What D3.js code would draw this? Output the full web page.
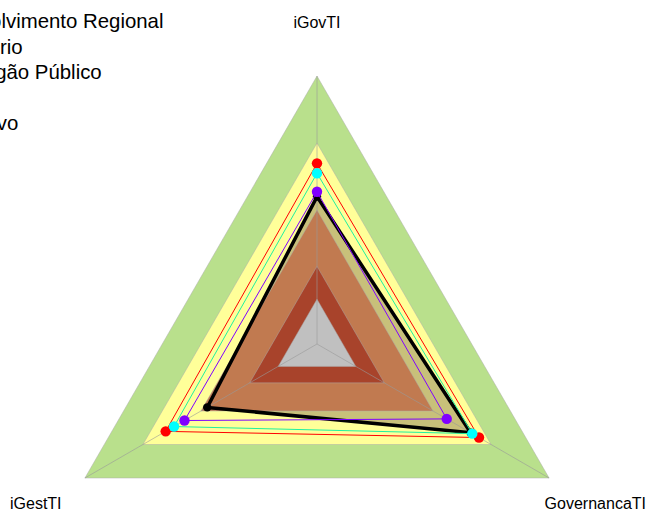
<!DOCTYPE html>
<html>
<head>
<meta charset="utf-8">
<script src="https://cdn.jsdelivr.net/npm/d3@7"></script>
<style>
  body { margin: 0; background: #fff; }
  svg { display: block; font-family: "Liberation Sans", Arial, sans-serif; }
</style>
</head>
<body>
<svg id="chart" width="650" height="513"></svg>
<script>
// axes of the radar, clockwise from the top
const axes = ["iGovTI", "GovernancaTI", "iGestTI"];

// background bands (outer to inner)
const bandLevels = [1.0, 0.75, 0.5, 0.29, 0.167];
const bandColors = ["#b9e08c", "#ffff99", "#c17a50", "#a8432b", "#c0c0c0"];

// series values, same order as axes
const seriesRed = [0.674, 0.698, 0.652];
const seriesCyan = [0.637, 0.669, 0.616];
const seriesPurple = [0.568, 0.559, 0.571];
const seriesBlack = [0.55, 0.662, 0.473];

const legendNames = ["Ministério do Desenvolvimento Regional", "Ministério", "Órgão Público", "", "Objetivo"];

const svg = d3.select("#chart");
const cx = 317, cy = 344;
const r = d3.scaleLinear().domain([0, 1]).range([0, 268]);
const angle = d3.scalePoint().domain(axes).range([-90, 150]);

function pt(axis, v) {
  const a = angle(axis) * Math.PI / 180;
  return [cx + r(v) * Math.cos(a), cy + r(v) * Math.sin(a)];
}
function poly(vals) {
  return axes.map((a, i) => pt(a, vals[i]));
}
const line = d3.line().curve(d3.curveLinearClosed);

const g = svg.append("g");

// draw the bands; the black series fill sits between yellow and brown
function band(level, color) {
  g.append("path")
    .attr("d", line(poly(axes.map(() => level))))
    .attr("fill", color)
    .attr("stroke", "#aaa")
    .attr("stroke-opacity", 0.6)
    .attr("stroke-width", 0.8);
}
band(bandLevels[0], bandColors[0]);
band(bandLevels[1], bandColors[1]);
g.append("path")
  .attr("d", line(poly(seriesBlack)))
  .attr("fill", "#c8c07a");
band(bandLevels[2], bandColors[2]);
band(bandLevels[3], bandColors[3]);
band(bandLevels[4], bandColors[4]);

// axis spokes
axes.forEach(a => {
  const [x, y] = pt(a, 1);
  g.append("line")
    .attr("x1", cx).attr("y1", cy).attr("x2", x).attr("y2", y)
    .attr("stroke", "#999").attr("stroke-opacity", 0.6).attr("stroke-width", 1);
});

// black series line + markers (drawn first, the coloured dots sit on top)
g.append("path")
  .attr("d", line(poly(seriesBlack)))
  .attr("fill", "none").attr("stroke", "#000").attr("stroke-width", 3.5)
  .attr("stroke-linejoin", "miter");
g.selectAll(null).data(poly(seriesBlack)).join("circle")
  .attr("cx", d => d[0]).attr("cy", d => d[1]).attr("r", 4.2)
  .attr("fill", "#000");

const series = [
  { vals: seriesRed, color: "#ff0000" },
  { vals: seriesCyan, color: "#00ffff", lineColor: "#20f0a0" },
  { vals: seriesPurple, color: "#8000ff" }
];
series.forEach(s => {
  g.append("path")
    .attr("d", line(poly(s.vals)))
    .attr("fill", "none").attr("stroke", s.lineColor || s.color).attr("stroke-width", 1);
});
series.forEach(s => {
  g.selectAll(null).data(poly(s.vals)).join("circle")
    .attr("cx", d => d[0]).attr("cy", d => d[1]).attr("r", 5.2)
    .attr("fill", s.color);
});

// axis labels
svg.append("text").attr("x", 317).attr("y", 28).attr("text-anchor", "middle")
  .attr("font-size", 16).text(axes[0]);
svg.append("text").attr("x", 646).attr("y", 509).attr("text-anchor", "end")
  .attr("font-size", 16).text(axes[1]);
svg.append("text").attr("x", 10).attr("y", 509).attr("text-anchor", "start")
  .attr("font-size", 16).text(axes[2]);

// legend, cut off on the left edge like the original
const legendEnds = [163.5, 22.7, 101.7, 0, 18.3];
legendNames.forEach((n, i) => {
  svg.append("text")
    .attr("x", legendEnds[i]).attr("y", 28 + i * 25.5)
    .attr("text-anchor", "end").attr("font-size", 20.4).attr("fill", "#000")
    .text(n);
});
</script>
</body>
</html>
